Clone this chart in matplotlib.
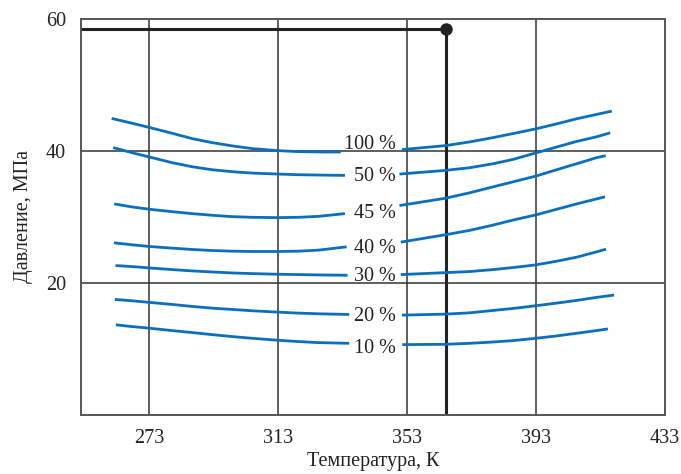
import matplotlib.pyplot as plt

plt.rcParams['font.family'] = ['Liberation Serif', 'DejaVu Serif']

# humidity curves: pressure vs temperature, each drawn in two pieces around its label
labels = ["100 %", "50 %", "45 %", "40 %", "30 %", "20 %", "10 %"]

# left pieces
left_inner_t = [267.5, 273, 280, 286.2, 292.4, 298.7, 304.9, 313, 319.4, 325.6]
left_start_t = [261.3, 261.8, 262.1, 262.0, 262.5, 262.3, 262.6]
left_end_t = [332.4, 333.7, 333.7, 334.2, 334.5, 335.0, 335.0]
left_pressure = [
    [44.93, 44.22, 43.56, 42.69, 41.88, 41.27, 40.77, 40.36, 40.05, 39.90, 39.85, 39.85],
    [40.51, 39.75, 39.09, 38.23, 37.62, 37.16, 36.86, 36.65, 36.50, 36.40, 36.35, 36.30],
    [31.98, 31.53, 31.17, 30.81, 30.51, 30.26, 30.05, 29.95, 29.90, 29.95, 30.10, 30.51],
    [26.09, 25.79, 25.53, 25.28, 25.08, 24.92, 24.82, 24.77, 24.77, 24.82, 24.98, 25.48],
    [22.64, 22.49, 22.28, 22.03, 21.83, 21.67, 21.52, 21.42, 21.32, 21.27, 21.22, 21.17],
    [17.51, 17.31, 17.06, 16.75, 16.45, 16.19, 15.99, 15.79, 15.58, 15.43, 15.33, 15.23],
    [13.66, 13.40, 13.15, 12.79, 12.49, 12.18, 11.88, 11.62, 11.32, 11.12, 10.96, 10.86],
]

# right pieces
right_inner_t = [364.9, 372.4, 379.7, 385.9, 392.9, 399.4, 405.6, 411.8]
right_start_t = [351.4, 350.6, 350.6, 351.0, 351.0, 351.4, 351.5]
right_end_t = [416.5, 416.0, 414.6, 414.4, 414.7, 417.2, 415.3]
right_pressure = [
    [40.21, 40.81, 41.37, 42.03, 42.64, 43.35, 44.11, 44.88, 45.54, 46.04],
    [36.50, 37.06, 37.46, 38.07, 38.73, 39.70, 40.60, 41.45, 42.15, 42.75],
    [31.73, 32.84, 33.66, 34.57, 35.33, 36.19, 37.16, 38.07, 38.99, 39.29],
    [26.19, 27.31, 27.97, 28.78, 29.54, 30.31, 31.17, 31.98, 32.74, 33.05],
    [21.27, 21.57, 21.73, 22.03, 22.34, 22.74, 23.30, 23.91, 24.72, 25.13],
    [15.13, 15.28, 15.48, 15.84, 16.14, 16.55, 16.95, 17.36, 17.82, 18.17],
    [10.66, 10.71, 10.86, 11.06, 11.27, 11.62, 11.98, 12.38, 12.79, 13.04],
]

# text baselines of the curve labels
label_y = [40.3, 35.4, 29.8, 24.6, 20.3, 14.2, 9.45]
label_x = 349.6

# operating point
point_t = 365
point_p = 58.5

x_ticks = [273, 313, 353, 393, 433]
y_ticks = [20, 40, 60]

blue = '#0a6fbd'
dark = '#222222'
fs = 14.5

fig = plt.figure(figsize=(6.81, 4.74), dpi=100)
ax = fig.add_axes([0.119, 0.1245, 0.8575, 0.8355])
ax.set_xlim(251.8, 433)
ax.set_ylim(0, 60)

for x in x_ticks[:-1]:
    ax.axvline(x, color='#333333', lw=1.1, zorder=1)
for y in y_ticks[:-1]:
    ax.axhline(y, color='#333333', lw=1.1, zorder=1)

for i, lab in enumerate(labels):
    lt = [left_start_t[i]] + left_inner_t + [left_end_t[i]]
    rt = [right_start_t[i]] + right_inner_t + [right_end_t[i]]
    ax.plot(lt, left_pressure[i], color=blue, lw=2, solid_capstyle='butt',
            solid_joinstyle='round', zorder=3)
    ax.plot(rt, right_pressure[i], color=blue, lw=2, solid_capstyle='butt',
            solid_joinstyle='round', zorder=3)
    ax.text(label_x, label_y[i], lab, ha='right', va='baseline', fontsize=fs,
            color=dark, zorder=4)

ax.plot([251.8, point_t], [point_p, point_p], color=dark, lw=2.2, zorder=2)
ax.plot([point_t, point_t], [point_p, 0], color=dark, lw=2.2, zorder=2)
ax.plot(point_t, point_p, 'o', color=dark, ms=8, zorder=5)

ax.set_xticks(x_ticks)
ax.set_yticks(y_ticks)
ax.tick_params(length=0, labelsize=fs, labelcolor=dark)
ax.tick_params(axis='x', pad=10)
ax.tick_params(axis='y', pad=11)

for s in ax.spines.values():
    s.set_color('#555555')
    s.set_linewidth(1.4)

ax.set_xlabel('Температура, К', fontsize=fs, color=dark, labelpad=3)
ax.set_ylabel('Давление, МПа', fontsize=fs, color=dark, labelpad=9)

fig.savefig('out.png', dpi=100)
